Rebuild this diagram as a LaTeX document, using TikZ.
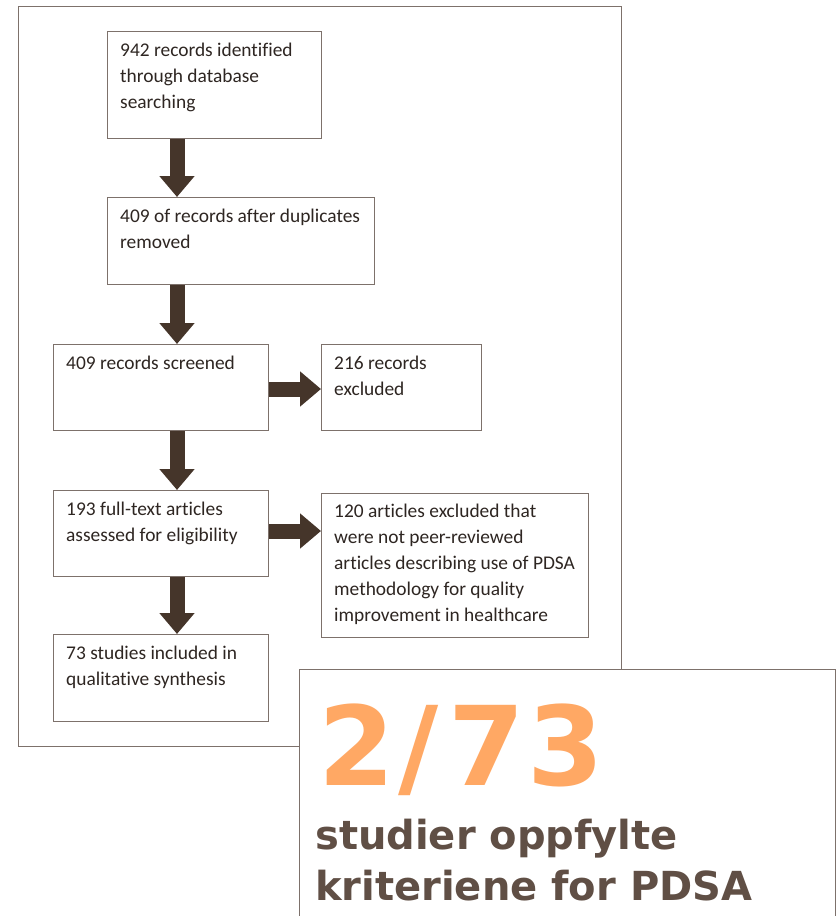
\documentclass[tikz,border=0pt]{standalone}
\usepackage{fontspec}
\setmainfont{Carlito}[Ligatures=NoCommon]
\newfontfamily\bigfont{DejaVu Sans}
\usetikzlibrary{arrows.meta,calc}
\definecolor{framec}{HTML}{7D716B}
\definecolor{arrowc}{HTML}{45352A}
\definecolor{txtc}{HTML}{2E2622}
\definecolor{orangec}{HTML}{FFA864}
\definecolor{brownc}{HTML}{604F45}
\tikzset{
  flowbox/.style={draw=framec, line width=1pt, fill=white, inner sep=0pt, anchor=north west},
  boxtext/.style={anchor=north west, inner sep=0pt, align=left, text=txtc,
    font=\fontsize{19.4}{26}\selectfont},
  fatarrow/.style={draw=arrowc, line width=15pt, -{Triangle[width=34pt,length=21pt]}},
}
\begin{document}
\begin{tikzpicture}[x=1pt,y=-1pt]
\useasboundingbox (0,0) rectangle (836,916);
% outer frame
\draw[framec, line width=1pt] (18,6) rectangle (621,746);
% boxes
\node[flowbox, minimum width=214pt, minimum height=107pt] (b1) at (107,31) {};
\node[flowbox, minimum width=267pt, minimum height=87pt] (b2) at (107,197) {};
\node[flowbox, minimum width=215pt, minimum height=86pt] (b3) at (53,344) {};
\node[flowbox, minimum width=160pt, minimum height=86pt] (b4) at (321,344) {};
\node[flowbox, minimum width=215pt, minimum height=86pt] (b5) at (53,490) {};
\node[flowbox, minimum width=267pt, minimum height=144pt] (b6) at (321,493) {};
\node[flowbox, minimum width=215pt, minimum height=87pt] (b7) at (53,634) {};
% texts
\node[boxtext] (t1) at ([shift={(13,7)}]b1.north west) {\strut 942 records identified\\through database\\searching};
\node[boxtext] (t2) at ([shift={(13,7)}]b2.north west) {\strut 409 of records after duplicates\\removed};
\node[boxtext] (t3) at ([shift={(13,7)}]b3.north west) {\strut 409 records screened};
\node[boxtext] (t4) at ([shift={(13,7)}]b4.north west) {\strut 216 records\\excluded};
\node[boxtext] (t5) at ([shift={(13,7)}]b5.north west) {\strut 193 full-text articles\\assessed for eligibility};
\node[boxtext] (t6) at ([shift={(13,6)}]b6.north west) {\strut 120 articles excluded that\\were not peer-reviewed\\articles describing use of PDSA\\methodology for quality\\improvement in healthcare};
\node[boxtext] (t7) at ([shift={(13,7)}]b7.north west) {\strut 73 studies included in\\qualitative synthesis};
% arrows
\draw[fatarrow] ([xshift=70]b1.south west) -- ([xshift=70]b2.north west);
\draw[fatarrow] ([xshift=70]b2.south west) -- ([xshift=124]b3.north west);
\draw[fatarrow] ([xshift=124]b3.south west) -- ([xshift=124]b5.north west);
\draw[fatarrow] ([xshift=124]b5.south west) -- ([xshift=124]b7.north west);
\draw[fatarrow] ([yshift=-45]b3.north east) -- ([yshift=-45]b3.north east -| b4.west);
\draw[fatarrow] ([yshift=-41]b5.north east) -- ([yshift=-41]b5.north east -| b6.west);
% lower overlay box
\coordinate (lb1) at (299,918);
\coordinate (lb2) at (299,669);
\coordinate (lb3) at (835,669);
\coordinate (lb4) at (835,918);
\fill[white] (lb1) -- (lb2) -- (lb3) -- (lb4) -- cycle;
\draw[framec, line width=1pt] (lb1) -- (lb2) -- (lb3) -- (lb4);
\node[anchor=base west, inner sep=0pt, text=orangec, font=\bigfont\bfseries\fontsize{110}{120}\selectfont] (big) at (318,785) {2\kern4pt/\kern10pt7\kern2pt3};
\node[anchor=base west, inner sep=0pt, text=brownc, align=left, font=\bigfont\bfseries\fontsize{40}{51}\selectfont] (cap1) at (315,849) {studier oppfylte};
\node[anchor=base west, inner sep=0pt, text=brownc, align=left, font=\bigfont\bfseries\fontsize{40}{51}\selectfont] (cap2) at (315,900) {kriteriene for PDSA};
\end{tikzpicture}
\end{document}
